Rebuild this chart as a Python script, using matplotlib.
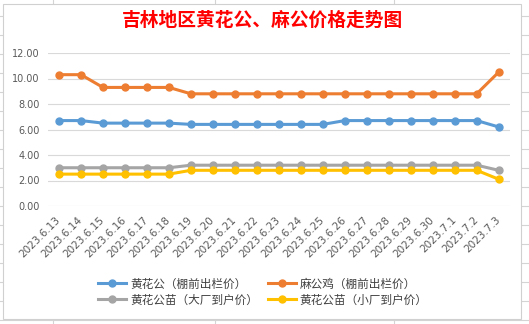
import matplotlib.pyplot as plt
import matplotlib.patches as mpatches
import matplotlib.transforms as mtransforms
from matplotlib.lines import Line2D

plt.rcParams['font.family'] = ['Noto Sans CJK SC', 'DejaVu Sans']

dates = ['2023.6.13', '2023.6.14', '2023.6.15', '2023.6.16', '2023.6.17', '2023.6.18',
         '2023.6.19', '2023.6.20', '2023.6.21', '2023.6.22', '2023.6.23', '2023.6.24',
         '2023.6.25', '2023.6.26', '2023.6.27', '2023.6.28', '2023.6.29', '2023.6.30',
         '2023.7.1', '2023.7.2', '2023.7.3']
huanghua = [6.7, 6.7, 6.5, 6.5, 6.5, 6.5, 6.4, 6.4, 6.4, 6.4, 6.4, 6.4, 6.4,
            6.7, 6.7, 6.7, 6.7, 6.7, 6.7, 6.7, 6.2]
magong = [10.3, 10.3, 9.3, 9.3, 9.3, 9.3, 8.8, 8.8, 8.8, 8.8, 8.8, 8.8, 8.8,
          8.8, 8.8, 8.8, 8.8, 8.8, 8.8, 8.8, 10.5]
miao_big = [3.0, 3.0, 3.0, 3.0, 3.0, 3.0, 3.2, 3.2, 3.2, 3.2, 3.2, 3.2, 3.2,
            3.2, 3.2, 3.2, 3.2, 3.2, 3.2, 3.2, 2.8]
miao_small = [2.5, 2.5, 2.5, 2.5, 2.5, 2.5, 2.8, 2.8, 2.8, 2.8, 2.8, 2.8, 2.8,
              2.8, 2.8, 2.8, 2.8, 2.8, 2.8, 2.8, 2.1]
names = ['黄花公（棚前出栏价）', '麻公鸡（棚前出栏价）',
         '黄花公苗（大厂到户价）', '黄花公苗（小厂到户价）']
colors = ['#5B9BD5', '#ED7D31', '#A5A5A5', '#FFC000']

W, H = 529, 324
fig = plt.figure(figsize=(W / 100, H / 100), dpi=100)

# spreadsheet cell lines behind the chart
for yy in range(16, H, 19):
    fig.add_artist(Line2D([0, 1], [1 - yy / H, 1 - yy / H], color='#D4D4D4', lw=0.8, zorder=-3))
for xx in [53, 215, 394]:
    fig.add_artist(Line2D([xx / W, xx / W], [0, 1], color='#D4D4D4', lw=0.8, zorder=-3))
fig.add_artist(mpatches.Rectangle((3 / W, 5 / H), 518 / W, 315 / H, transform=fig.transFigure,
                                  facecolor='white', edgecolor='#D0D0D0', lw=0.8, zorder=-2))

ax = fig.add_axes([48 / W, 1 - 206 / H, 461.7 / W, 153 / H])
ax.set_facecolor('none')
x = range(len(dates))
series = [huanghua, magong, miao_big, miao_small]
lines = []
for vals, c, n in zip(series, colors, names):
    ln, = ax.plot(x, vals, color=c, lw=2.2, marker='o', ms=5, label=n, zorder=3)
    lines.append(ln)

ax.set_xlim(-0.5, len(dates) - 0.5)
ax.set_ylim(0, 12)
ax.set_yticks(range(0, 13, 2))
ax.set_yticklabels(['%.2f' % v for v in range(0, 13, 2)], fontsize=7, color='#595959',
                   family='DejaVu Sans')
ax.set_xticks(list(x))
ax.set_xticklabels(dates, rotation=45, ha='right', va='center', rotation_mode='anchor',
                   fontsize=7.5, color='#595959', family='DejaVu Sans')
shift = mtransforms.ScaledTranslation(6 / 100, 0, fig.dpi_scale_trans)
for lab in ax.get_xticklabels():
    lab.set_transform(lab.get_transform() + shift)
ax.tick_params(axis='both', length=0)
ax.tick_params(axis='x', pad=9)
ax.tick_params(axis='y', pad=6)
ax.grid(axis='y', color='#D9D9D9', lw=0.8)
for s in ax.spines.values():
    s.set_visible(False)

fig.text(0.497, 1 - 20 / H, '吉林地区黄花公、麻公价格走势图', color='red', fontsize=13.5,
         fontweight='bold', ha='center', va='center')

order = [0, 2, 1, 3]
fig.legend([lines[i] for i in order], [names[i] for i in order], ncol=2,
           loc='center', bbox_to_anchor=(0.497, 1 - 292 / H), frameon=False,
           fontsize=8.4, labelcolor='#404040', handlelength=2.4, columnspacing=0.8,
           labelspacing=0.25, handletextpad=0.35)

fig.savefig('out.png', dpi=100)
